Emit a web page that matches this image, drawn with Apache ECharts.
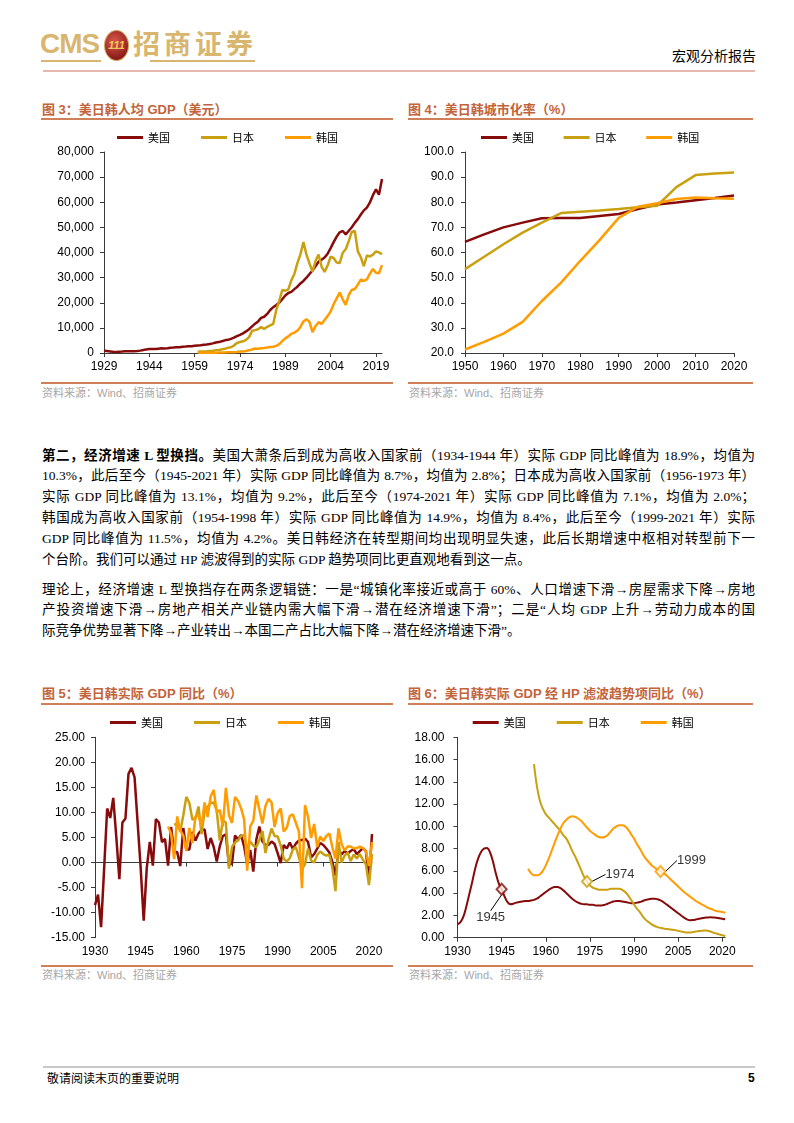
<!DOCTYPE html>
<html><head><meta charset="utf-8">
<script src="https://cdn.jsdelivr.net/npm/echarts@6/dist/echarts.min.js"></script>
<style>
html,body{margin:0;padding:0;background:#fff;}
body{width:794px;height:1123px;position:relative;overflow:hidden;font-family:"Noto Sans CJK SC",sans-serif;}
.abs{position:absolute;}
.title{position:absolute;font-size:13px;font-weight:bold;color:#c3633a;line-height:16px;white-space:nowrap;font-family:"Liberation Sans","Noto Sans CJK SC";}
.rule{position:absolute;height:2px;background:#d08058;}
.src{position:absolute;font-size:11px;color:#a6a6a6;line-height:14px;white-space:nowrap;font-family:"Liberation Sans","Noto Sans CJK SC";}
.chart{position:absolute;}
.txt{position:absolute;left:42px;width:713px;font-family:"Liberation Serif","Noto Sans CJK SC";font-size:13.5px;color:#000;}
.ln{height:20.8px;line-height:20.8px;text-align:justify;text-align-last:justify;overflow:hidden;}
.ln.last{text-align-last:left;}
</style></head>
<body>
<!-- header -->
<div class="abs" style="left:40px;top:28px;font-family:'Liberation Sans';font-weight:bold;font-size:28px;letter-spacing:-1px;color:#d8b66f;line-height:32px;">CMS</div>
<div class="abs" style="left:41px;top:60px;width:60px;height:2px;background:#d8b66f;"></div>
<div class="abs" style="left:104px;top:30px;width:23px;height:29px;border-radius:50%;background:radial-gradient(circle at 40% 35%,#d8574a,#8b1a1a 75%);border:1.5px solid #c9a55a;color:#f0c860;font:italic bold 11px 'Liberation Sans';line-height:29px;text-align:center;">111</div>
<div class="abs" style="left:133px;top:26px;font-family:'Noto Sans CJK SC';font-weight:bold;font-size:27px;letter-spacing:4px;color:#d8b66f;line-height:34px;">招商证券</div>
<div class="abs" style="left:150px;top:60px;width:105px;height:2px;background:#d8b66f;"></div>
<div class="abs" style="left:672px;top:46px;font-size:14px;line-height:18px;color:#000;">宏观分析报告</div>
<div class="abs" style="left:43px;top:70px;width:712px;height:2px;background:#e6b8ae;"></div>

<!-- chart 3 & 4 frames -->
<div class="title" style="left:42px;top:102px;">图 3：美日韩人均 GDP（美元）</div>
<div class="rule" style="left:41px;top:118px;width:352px;"></div>
<div class="rule" style="left:41px;top:382px;width:352px;"></div>
<div class="src" style="left:42px;top:386px;">资料来源：Wind、招商证券</div>
<div class="title" style="left:408px;top:102px;">图 4：美日韩城市化率（%）</div>
<div class="rule" style="left:408px;top:118px;width:345px;"></div>
<div class="rule" style="left:408px;top:382px;width:345px;"></div>
<div class="src" style="left:409px;top:386px;">资料来源：Wind、招商证券</div>
<div id="c3" class="chart" style="left:30px;top:125px;width:365px;height:255px;"></div>
<div id="c4" class="chart" style="left:400px;top:125px;width:360px;height:255px;"></div>

<!-- body text -->
<div class="txt" style="top:445.6px;">
<div class="ln"><b>第二，经济增速 L 型换挡。</b>美国大萧条后到成为高收入国家前（1934-1944 年）实际 GDP 同比峰值为 18.9%，均值为</div>
<div class="ln">10.3%，此后至今（1945-2021 年）实际 GDP 同比峰值为 8.7%，均值为 2.8%；日本成为高收入国家前（1956-1973 年）</div>
<div class="ln">实际 GDP 同比峰值为 13.1%，均值为 9.2%，此后至今（1974-2021 年）实际 GDP 同比峰值为 7.1%，均值为 2.0%；</div>
<div class="ln">韩国成为高收入国家前（1954-1998 年）实际 GDP 同比峰值为 14.9%，均值为 8.4%，此后至今（1999-2021 年）实际</div>
<div class="ln">GDP 同比峰值为 11.5%，均值为 4.2%。美日韩经济在转型期间均出现明显失速，此后长期增速中枢相对转型前下一</div>
<div class="ln last">个台阶。我们可以通过 HP 滤波得到的实际 GDP 趋势项同比更直观地看到这一点。</div>
</div>
<div class="txt" style="top:579.6px;">
<div class="ln">理论上，经济增速 L 型换挡存在两条逻辑链：一是“城镇化率接近或高于 60%、人口增速下滑→房屋需求下降→房地</div>
<div class="ln">产投资增速下滑→房地产相关产业链内需大幅下滑→潜在经济增速下滑”；二是“人均 GDP 上升→劳动力成本的国</div>
<div class="ln last">际竞争优势显著下降→产业转出→本国二产占比大幅下降→潜在经济增速下滑”。</div>
</div>

<!-- chart 5 & 6 frames -->
<div class="title" style="left:42px;top:686px;">图 5：美日韩实际 GDP 同比（%）</div>
<div class="rule" style="left:41px;top:703px;width:352px;"></div>
<div class="rule" style="left:41px;top:965px;width:352px;"></div>
<div class="src" style="left:42px;top:968px;">资料来源：Wind、招商证券</div>
<div class="title" style="left:408px;top:686px;">图 6：美日韩实际 GDP 经 HP 滤波趋势项同比（%）</div>
<div class="rule" style="left:408px;top:703px;width:345px;"></div>
<div class="rule" style="left:408px;top:965px;width:345px;"></div>
<div class="src" style="left:409px;top:968px;">资料来源：Wind、招商证券</div>
<div id="c5" class="chart" style="left:30px;top:708px;width:365px;height:255px;"></div>
<div id="c6" class="chart" style="left:400px;top:708px;width:360px;height:255px;"></div>

<!-- footer -->
<div class="abs" style="left:43px;top:1066px;width:712px;height:2px;background:#c8c8c8;"></div>
<div class="abs" style="left:47px;top:1070px;font-size:12px;line-height:16px;color:#000;">敬请阅读末页的重要说明</div>
<div class="abs" style="left:748px;top:1070px;font:bold 12px 'Liberation Sans';line-height:16px;color:#000;">5</div>

<script>
// ---------- data ----------
const seriesNames = ['美国', '日本', '韩国'];
const colors = ['#870b0b', '#c9a010', '#ff9c00'];

// Fig 3: per capita GDP (USD), 1929-2021
const gdpPcYears = []; for (let y = 1929; y <= 2021; y++) gdpPcYears.push(String(y));
const usGdpPc = [857,769,619,470,447,516,572,652,707,655,
  700,766,941,1184,1434,1566,1591,1574,1723,1856,
  1821,1890,2090,2180,2290,2280,2460,2560,2670,2680,2860,
  3007,3067,3244,3375,3574,3828,4146,4336,4696,5032,
  5234,5609,6095,6726,7226,7801,8592,9453,10565,11674,
  12575,13976,14434,15544,17121,18237,19071,20039,21417,22857,
  23889,24342,25419,26387,27695,28691,29968,31459,32854,34516,
  36330,37134,37998,39490,41725,44123,46302,48050,48570,47195,
  48651,50066,51784,53291,55124,56763,57867,59915,62805,65095,
  63028,69288];
const jpGdpPc1960 = [479,564,634,718,836,918,1059,1229,1451,1669,
  2037,2272,2967,3997,4354,4659,5198,6335,8821,9105,
  9463,10361,9578,10425,10985,11585,17112,20745,25051,24813,
  25359,28925,31465,35766,39269,44198,39150,35636,32424,36611,
  39169,34406,32289,34808,38299,37813,35991,35779,39876,41309,
  44508,48168,48603,40454,38109,34524,38794,38387,39159,40416,
  40040,39313];
const krGdpPc1960 = [158,94,106,146,124,109,133,161,198,243,
  279,301,324,406,563,617,834,1055,1405,1783,
  1715,1883,1993,2199,2413,2482,2835,3555,4749,5817,
  6610,7637,8127,8885,10385,12565,13403,12399,8282,10672,
  12257,11561,13165,14673,16496,19403,21743,24086,21350,19144,
  23087,25096,25467,27178,29253,28737,29274,31601,33447,31902,
  31721,34998];
const gdpPcTicks = [0, 80000, 10000];

// Fig 4: urbanization rate (%)
const urbanYears = [1950,1955,1960,1965,1970,1975,1980,1985,1990,1995,2000,2005,2010,2015,2020];
const usUrban = [64.2,67.2,70.0,71.9,73.6,73.7,73.7,74.5,75.3,77.3,79.1,79.9,80.8,81.7,82.7];
const jpUrban = [53.4,58.3,63.3,67.9,71.9,75.7,76.2,76.7,77.3,78.0,78.6,86.0,90.8,91.4,91.8];
const krUrban = [21.4,24.4,27.7,32.4,40.7,48.0,56.7,64.9,73.8,78.2,79.6,81.3,81.9,81.6,81.4];

// Fig 5: real GDP yoy (%), 1930-2021
const growthYears = []; for (let y = 1930; y <= 2021; y++) growthYears.push(String(y));
const usGrowth = [-8.5,-6.4,-12.9,-1.2,10.8,8.9,12.9,5.1,-3.3,8.0,
  8.8,17.7,18.9,17.0,8.0,-1.0,-11.6,-1.1,4.1,-0.6,
  8.7,8.0,4.1,4.7,-0.6,7.1,2.1,2.1,-0.7,6.9,
  2.6,2.6,6.1,4.4,5.8,6.5,6.6,2.7,4.9,3.1,
  0.2,3.3,5.3,5.6,-0.5,-0.2,5.4,4.6,5.5,3.2,
  -0.3,2.5,-1.8,4.6,7.2,4.2,3.5,3.5,4.2,3.7,
  1.9,-0.1,3.5,2.8,4.0,2.7,3.8,4.4,4.5,4.8,
  4.1,1.0,1.7,2.8,3.9,3.5,2.8,2.0,0.1,-2.6,
  2.7,1.6,2.3,1.8,2.3,2.7,1.7,2.3,2.9,2.3,
  -3.4,5.7];
const jpGrowth1956 = [7.5,7.8,6.2,9.4,
  13.1,11.9,8.6,8.8,11.2,5.7,10.2,11.1,11.9,12.0,
  10.3,4.4,8.4,8.0,-1.2,3.1,4.0,4.4,5.3,5.5,
  2.8,4.2,3.4,3.1,4.5,6.3,1.9,4.6,6.8,5.3,
  5.2,3.4,0.8,0.2,0.9,2.6,3.1,1.0,-1.3,-0.3,
  2.8,0.4,0.0,1.5,2.2,1.7,1.4,1.5,-1.2,-5.7,
  4.1,0.0,1.4,2.0,0.3,1.6,0.8,1.7,0.6,-0.4,
  -4.5,1.7];
const krGrowth1954 = [7.2,5.8,0.7,9.2,6.4,5.4,
  2.3,6.9,3.9,9.2,9.5,7.2,12.0,9.1,13.2,14.5,
  10.0,10.5,7.2,14.9,9.5,7.9,13.1,12.3,10.8,8.6,
  -1.6,7.2,8.3,13.4,10.6,7.8,11.3,12.7,12.0,7.1,
  9.9,10.8,6.2,6.9,9.3,9.6,7.9,6.2,-5.1,11.5,
  9.1,4.9,7.7,3.1,5.2,4.3,5.3,5.8,3.0,0.8,
  6.8,3.7,2.4,3.2,3.2,2.8,2.9,3.2,2.9,2.2,
  -0.7,4.1];

// Fig 6: HP-filtered trend yoy (%), 1930-2021
const usTrend = [1.2,1.4,1.9,2.8,3.9,5.0,6.2,7.1,7.7,8.0,
  8.05,7.7,6.9,5.8,4.9,4.35,3.7,3.2,3.0,3.05,
  3.15,3.2,3.25,3.3,3.3,3.35,3.4,3.5,3.7,3.9,
  4.1,4.3,4.45,4.55,4.55,4.45,4.25,4.0,3.75,3.5,
  3.3,3.15,3.05,3.0,3.0,2.95,2.95,2.9,2.9,2.9,
  2.95,3.05,3.15,3.25,3.3,3.3,3.25,3.2,3.15,3.1,
  3.1,3.15,3.2,3.3,3.4,3.45,3.5,3.5,3.45,3.35,
  3.2,3.0,2.8,2.6,2.4,2.2,2.0,1.8,1.65,1.57,
  1.58,1.63,1.7,1.75,1.8,1.82,1.83,1.82,1.8,1.75,
  1.7,1.65];
const jpTrend1956 = [15.6,13.6,12.3,11.6,
  11.1,10.8,10.5,10.2,9.9,9.6,9.2,8.9,8.4,7.8,
  7.3,6.7,6.1,5.5,5.05,4.7,4.5,4.4,4.3,4.3,
  4.3,4.3,4.4,4.4,4.4,4.4,4.3,4.1,3.8,3.4,
  3.0,2.6,2.3,1.9,1.6,1.4,1.2,1.05,0.95,0.88,
  0.82,0.78,0.75,0.72,0.68,0.62,0.55,0.5,0.47,0.47,
  0.5,0.55,0.6,0.63,0.64,0.62,0.55,0.45,0.38,0.3,
  0.22,0.15];
const krTrend1954 = [6.2,5.8,5.6,5.6,5.7,6.0,
  6.5,7.1,7.8,8.5,9.2,9.8,10.3,10.6,10.8,10.9,
  10.85,10.7,10.5,10.2,9.9,9.6,9.4,9.2,9.05,9.0,
  9.05,9.2,9.5,9.8,10.0,10.1,10.1,10.0,9.7,9.3,
  8.9,8.4,8.0,7.5,7.1,6.8,6.5,6.3,6.1,5.95,
  5.8,5.6,5.35,5.1,4.85,4.6,4.35,4.1,3.9,3.7,
  3.5,3.3,3.15,3.0,2.85,2.7,2.6,2.5,2.4,2.35,
  2.3,2.25];
const trendMarks = [
  {name: '美国', year: '1945', dx: -11, dy: 28},
  {name: '日本', year: '1974', dx: 33, dy: -7},
  {name: '韩国', year: '1999', dx: 31, dy: -11}
];

// ---------- helpers ----------
const pad = (n, arr) => Array(n).fill(null).concat(arr);
const axisColor = '#3a3a3a';
const latin = 'Liberation Sans';
function legend(left, top, gap) {
  return {data: seriesNames, left: left, top: top, padding: 0, icon: 'rect', itemWidth: 26, itemHeight: 3,
    itemGap: gap, textStyle: {fontSize: 11, color: '#000', fontFamily: 'Noto Sans CJK SC'}};
}
function valAxis(min, max, interval, fmt, margin) {
  return {type: 'value', min: min, max: max, interval: interval,
    axisLine: {show: true, lineStyle: {color: axisColor, width: 1}},
    axisTick: {show: true, length: 4, lineStyle: {color: axisColor}},
    splitLine: {show: false},
    axisLabel: {formatter: fmt, color: '#000', fontSize: 12, fontFamily: latin, margin: margin}};
}
function catAxis(data, extra) {
  return Object.assign({type: 'category', data: data, boundaryGap: false,
    axisLine: {show: true, onZero: false, lineStyle: {color: axisColor, width: 1}},
    axisTick: {show: true, interval: 14, length: 4, lineStyle: {color: axisColor}},
    axisLabel: {interval: 14, color: '#000', fontSize: 12, fontFamily: latin, margin: 8},
    splitLine: {show: false}}, extra || {});
}
function line(name, data, width, extra) {
  return Object.assign({name: name, type: 'line', data: data, symbol: 'none', showSymbol: false,
    lineStyle: {color: colors[seriesNames.indexOf(name)], width: width},
    itemStyle: {color: colors[seriesNames.indexOf(name)]}, emphasis: {disabled: true}}, extra || {});
}
const gridBase = {outerBoundsMode: 'none', containLabel: false};

// ---------- Fig 3 ----------
echarts.init(document.getElementById('c3')).setOption({
  animation: false,
  legend: legend(87, 7, 31),
  grid: Object.assign({left: 74, top: 27, width: 278, height: 201}, gridBase),
  xAxis: catAxis(gdpPcYears),
  yAxis: valAxis(gdpPcTicks[0], gdpPcTicks[1], gdpPcTicks[2], v => v.toLocaleString('en-US'), 10),
  series: [
    line('美国', usGdpPc, 2.5),
    line('日本', pad(31, jpGdpPc1960), 2.5),
    line('韩国', pad(31, krGdpPc1960), 2.5)
  ]
});

// ---------- Fig 4 ----------
const pairs = arr => urbanYears.map((y, i) => [y, arr[i]]);
echarts.init(document.getElementById('c4')).setOption({
  animation: false,
  legend: legend(81, 7, 29.6),
  grid: Object.assign({left: 65, top: 27, width: 269, height: 201}, gridBase),
  xAxis: valAxis(1950, 2020, 10, v => String(v), 8),
  yAxis: valAxis(20, 100, 10, v => v.toFixed(1), 11),
  series: [
    line('美国', pairs(usUrban), 2.5),
    line('日本', pairs(jpUrban), 2.5),
    line('韩国', pairs(krUrban), 2.5)
  ]
});

// ---------- Fig 5 ----------
echarts.init(document.getElementById('c5')).setOption({
  animation: false,
  legend: legend(80, 9, 31),
  grid: Object.assign({left: 65, top: 29.3, width: 277, height: 200.4}, gridBase),
  xAxis: [
    catAxis(growthYears, {position: 'bottom', axisLine: {show: false, onZero: false}, axisTick: {show: false}}),
    catAxis(growthYears, {position: 'bottom', axisLine: {show: true, onZero: true, lineStyle: {color: axisColor, width: 1}},
      axisLabel: {show: false}})
  ],
  yAxis: valAxis(-15, 25, 5, v => v.toFixed(2), 10),
  series: [
    line('美国', usGrowth, 2.5),
    line('日本', pad(26, jpGrowth1956), 2.5),
    line('韩国', pad(24, krGrowth1954), 2.5)
  ]
});

// ---------- Fig 6 ----------
const trendData = {'美国': usTrend, '日本': pad(26, jpTrend1956), '韩国': pad(24, krTrend1954)};
const markSeries = trendMarks.map(m => {
  const c = colors[seriesNames.indexOf(m.name)];
  const v = trendData[m.name][growthYears.indexOf(m.year)];
  return {name: m.name + '标注', type: 'scatter', z: 5, data: [[m.year, v]], symbol: 'diamond', symbolSize: [10, 11],
    itemStyle: {color: '#fff8f0', borderColor: c, borderWidth: 2}, emphasis: {disabled: true},
    label: {show: true, position: 'inside', formatter: p => p.value[0], color: '#000', fontSize: 13, fontFamily: latin},
    labelLayout: {dx: m.dx, dy: m.dy, hideOverlap: false},
    labelLine: {show: true, lineStyle: {color: '#000', width: 1}}};
});
echarts.init(document.getElementById('c6')).setOption({
  animation: false,
  legend: legend(72.7, 9, 31),
  grid: Object.assign({left: 57.5, top: 29.3, width: 267.7, height: 200.4}, gridBase),
  xAxis: catAxis(growthYears),
  yAxis: valAxis(0, 18, 2, v => v.toFixed(2), 13),
  series: [
    line('美国', trendData['美国'], 2, {smooth: 0.4}),
    line('日本', trendData['日本'], 2, {smooth: 0.4}),
    line('韩国', trendData['韩国'], 2, {smooth: 0.4})
  ].concat(markSeries)
});
</script>
</body></html>
